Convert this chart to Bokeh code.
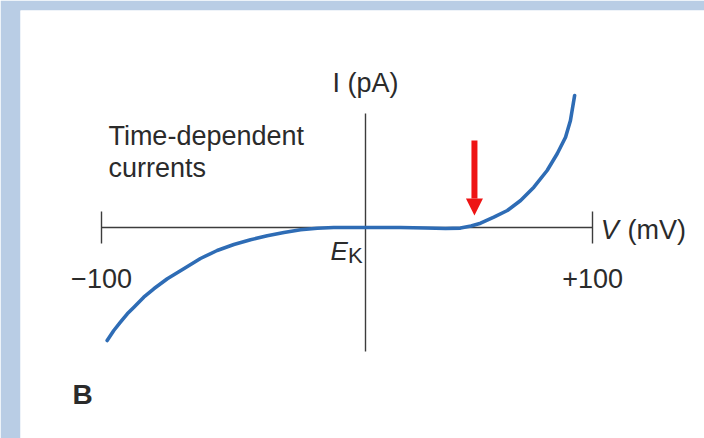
from bokeh.plotting import figure
from bokeh.models import (LinearAxis, FixedTicker, Range1d, Label, Arrow,
                          NormalHead, ColumnDataSource)
from bokeh.embed import file_html
from bokeh.resources import INLINE

# Schematic I-V relation of time-dependent currents (mV, pA)
voltage_mv = [-97.7, -95.0, -92.3, -89.5, -86.8, -82.8, -78.7, -73.2, -66.5,
              -59.7, -52.9, -46.1, -39.3, -32.5, -25.7, -18.9, -12.1, -5.4,
              1.4, 7.5, 21.8, 32.0, 40.1, 46.2, 50.5, 54.4, 59.8, 65.3,
              70.7, 76.1, 81.5, 85.6, 89.0, 91.0, 92.7]
current_pa = [-113, -103, -94.7, -86.3, -79.7, -69.7, -61.3, -51.3, -41.3,
              -31, -23, -17, -12.3, -8.3, -5, -2.3, -0.7, 0,
              0, 0, 0, -0.5, -1, -0.6, 1.5, 4.3, 10.3, 17,
              27, 40.3, 57, 73.7, 90.3, 107, 132]

v_ticks = [-100, 100]
v_tick_labels = {-100: "\u2212100", 100: "+100"}
v_axis_bounds = (-100, 100)
i_axis_at_mv = 7.5
i_axis_bounds = (-124, 114)
threshold_mv = 51.9          # activation threshold marked by the arrow
arrow_from_pa, arrow_to_pa = 87, 12

FONT = "Liberation Sans"
TEXT = "#2b2b2b"
AXIS = "#3c3c3c"
BLUE = "#2e6cb5"
RED = "#ee1414"

p = figure(width=704, height=438, output_backend="svg", toolbar_location=None,
           x_range=Range1d(-133.0, 145.6), y_range=Range1d(-211, 217),
           x_axis_location=None, y_axis_location=None,
           min_border_left=20, min_border_top=10, min_border_right=0,
           min_border_bottom=0, border_fill_color="#b9cde5",
           background_fill_color="white", outline_line_color=None)
p.xgrid.visible = False
p.ygrid.visible = False

# voltage axis through I = 0 with end caps at +/-100 mV
v_axis = LinearAxis(fixed_location=0, bounds=v_axis_bounds,
                    ticker=FixedTicker(ticks=v_ticks),
                    major_label_overrides=v_tick_labels,
                    major_tick_in=16, major_tick_out=16,
                    major_tick_line_color=AXIS, major_tick_line_width=1.4,
                    axis_line_color=AXIS, axis_line_width=1.4,
                    major_label_standoff=25,
                    major_label_text_font=FONT,
                    major_label_text_font_size="27px",
                    major_label_text_color=TEXT, level="underlay")
p.add_layout(v_axis, "below")

# current axis
i_axis = LinearAxis(fixed_location=i_axis_at_mv, bounds=i_axis_bounds,
                    ticker=FixedTicker(ticks=[]), major_tick_in=0,
                    major_tick_out=0, minor_tick_in=0, minor_tick_out=0,
                    major_label_text_font_size="0px",
                    axis_line_color=AXIS, axis_line_width=1.4, level="underlay")
p.add_layout(i_axis, "left")

src = ColumnDataSource(dict(v=voltage_mv, i=current_pa))
p.line("v", "i", source=src, line_color=BLUE, line_width=3.6,
       line_join="round", line_cap="round")

p.add_layout(Arrow(end=NormalHead(size=17, fill_color=RED, line_color=RED,
                                  line_width=0),
                   x_start=threshold_mv, y_start=arrow_from_pa,
                   x_end=threshold_mv, y_end=arrow_to_pa,
                   line_color=RED, line_width=6))

def label(x, y, text, size="27px", style="normal", align="left",
          baseline="alphabetic"):
    p.add_layout(Label(x=x, y=y, text=text, text_font=FONT,
                       text_font_size=size, text_font_style=style,
                       text_color=TEXT, text_align=align,
                       text_baseline=baseline))

label(i_axis_at_mv, 145, "I (pA)", align="center")
label(-97.2, 92, "Time-dependent")
label(-97.2, 60, "currents")
label(103.3, -2, "V", style="italic")
label(114.2, -2, "(mV)")
label(-6.7, -23, "E", size="26px", style="italic")
label(0.4, -28, "K", size="22px")
label(-111.8, -167, "B", size="28px", style="bold")

open("out.html", "w").write(file_html(p, INLINE))
